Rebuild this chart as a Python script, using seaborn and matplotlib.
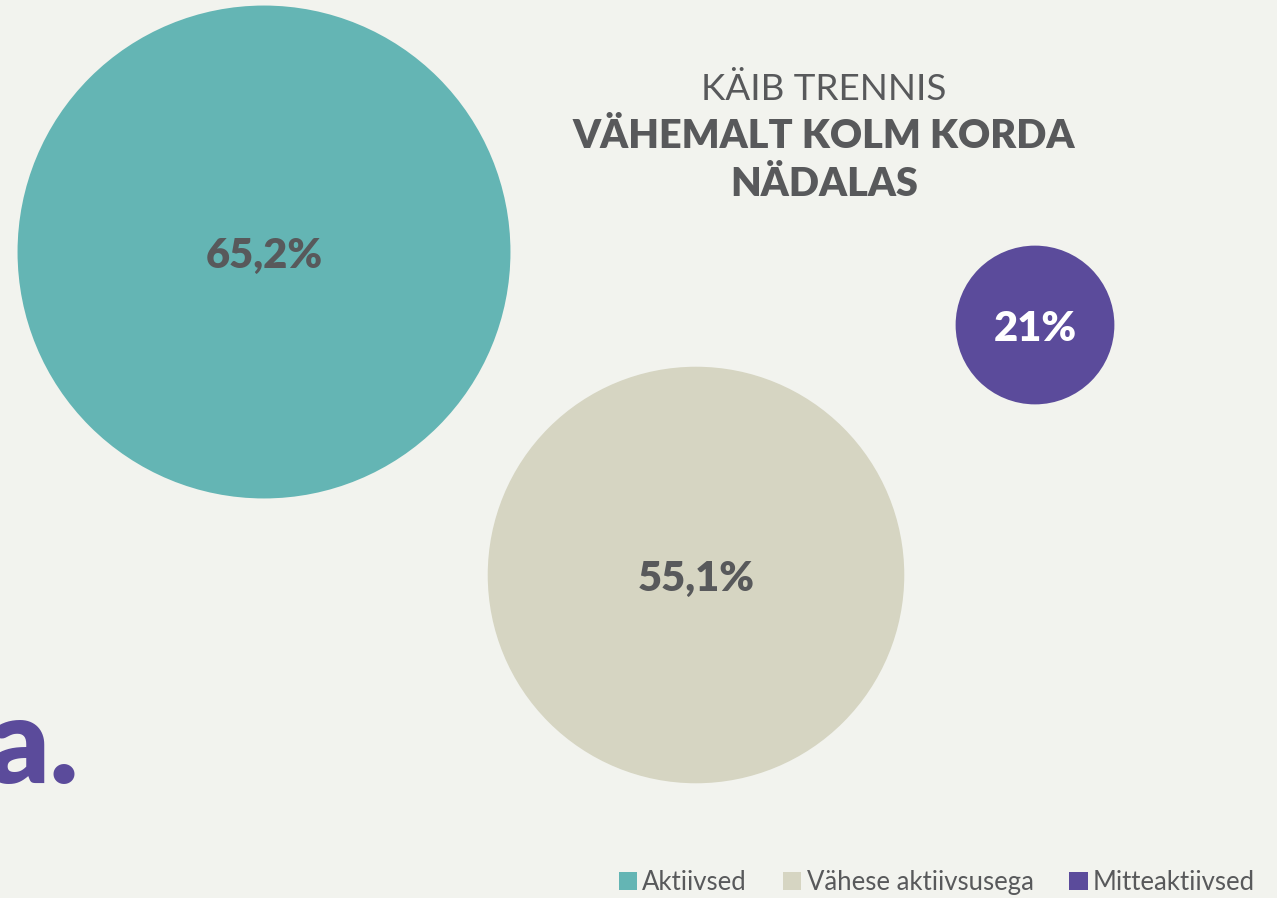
import numpy as np
import pandas as pd
import matplotlib
matplotlib.use('Agg')
import matplotlib.pyplot as plt
from matplotlib.patches import Circle, Patch
import seaborn as sns

# datos
categorias = ['Aktiivsed', 'Vähese aktiivsusega', 'Mitteaktiivsed']
valores = [65.2, 55.1, 21.0]
etiquetas = ['65,2%', '55,1%', '21%']

# layout (px, y hacia abajo)
centro_x = [264, 696, 1035]
centro_y = [252, 575, 325]
px_por_punto = 3.78
colores = ['#64b5b4', '#d6d5c2', '#5b4b9b']
color_etiqueta = ['#58595b', '#58595b', '#ffffff']
fondo = '#f2f3ee'
gris = '#58595b'

sns.set_theme(style='white')
plt.rcParams['font.family'] = ['Lato', 'DejaVu Sans']

df = pd.DataFrame({'cat': categorias, 'valor': valores, 'x': centro_x, 'y': centro_y})

fig = plt.figure(figsize=(12.77, 8.98), dpi=100, facecolor=fondo)
ax = fig.add_axes([0, 0, 1, 1])
ax.set_facecolor(fondo)
ax.set_xlim(0, 1277)
ax.set_ylim(898, 0)
ax.set_aspect('equal')
ax.axis('off')

#====CIRCULOS====
for i, fila in df.iterrows():
    ax.add_patch(Circle((fila['x'], fila['y']), fila['valor'] * px_por_punto,
                        color=colores[i], lw=0))
    ax.text(fila['x'], fila['y'] + 4, etiquetas[i], ha='center', va='center',
            fontsize=30, fontweight='heavy', color=color_etiqueta[i])

#====TITULO====
ax.text(824, 89, 'KÄIB TRENNIS', ha='center', va='center', fontsize=26.5,
        fontweight='normal', color=gris)
ax.text(824, 137, 'VÄHEMALT KOLM KORDA', ha='center', va='center',
        fontsize=28.5, fontweight='heavy', color=gris)
ax.text(824, 184, 'NÄDALAS', ha='center', va='center',
        fontsize=28.5, fontweight='heavy', color=gris)

# la "a." gigante cortada
ax.text(78, 783, 'a.', ha='right', va='baseline', fontsize=86,
        fontweight='heavy', color='#5b4b9b')

#====LEYENDA====
handles = [Patch(facecolor=c, edgecolor='none', label=l) for c, l in zip(colores, categorias)]
fig.legend(handles=handles, loc='lower right', bbox_to_anchor=(0.993, -0.011),
           ncol=3, frameon=False, fontsize=18.5, handlelength=0.72, handleheight=0.72,
           handletextpad=0.2, columnspacing=1.4, borderpad=0, labelcolor=gris)

plt.savefig('out.png', dpi=100, facecolor=fondo)
